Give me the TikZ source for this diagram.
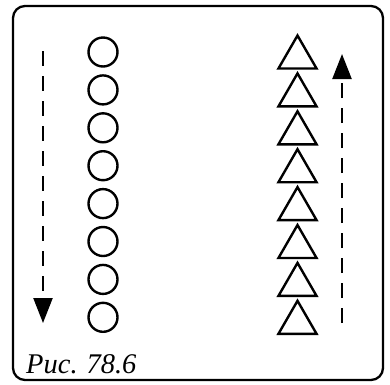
\documentclass[tikz,border=0pt]{standalone}
\usepackage{fontspec}
\setmainfont{Liberation Serif}
\usetikzlibrary{shapes.geometric,arrows.meta}
\begin{document}
\begin{tikzpicture}[x=1pt,y=-1pt,
  ball/.style={circle,draw,line width=2.4pt,minimum size=29pt,inner sep=0pt},
  tri/.style={regular polygon,regular polygon sides=3,draw,line width=2.4pt,minimum size=44pt,inner sep=0pt},
  flow/.style={line width=2.3pt,dash pattern=on 15pt off 10pt,-{Triangle[length=25pt,width=19pt]}},
  frame/.style={line width=2.3pt,rounded corners=12pt}]
\useasboundingbox (0,0) rectangle (390,384);
\draw[frame] (13,6) rectangle (383,380);
\foreach \i in {1,...,8}{
  \node[ball] (c\i) at (103,{52+37.9*(\i-1)}) {};
  \node[tri] (t\i) at (297.5,{57.5+37.9*(\i-1)}) {};
}
\coordinate (la) at (43,51);
\coordinate (lb) at (43,323);
\coordinate (ra) at (342,323);
\coordinate (rb) at (342,54);
\draw[flow] (la) -- (lb);
\draw[flow] (ra) -- (rb);
\node[anchor=base west,inner sep=0pt,font=\itshape\fontsize{28.5}{30}\selectfont] (cap) at (26,373) {Рис.\hspace{9pt}78.6};
\end{tikzpicture}
\end{document}
